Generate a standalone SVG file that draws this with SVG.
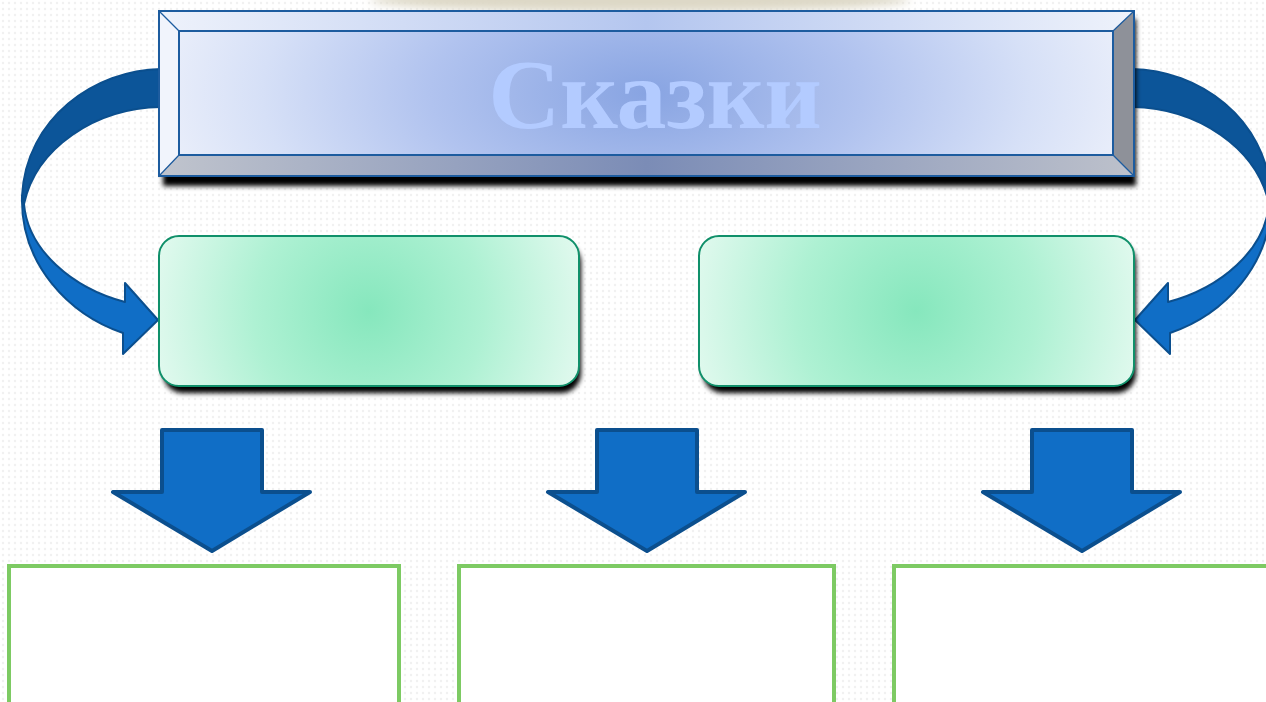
<svg xmlns="http://www.w3.org/2000/svg" width="1266" height="702" viewBox="0 0 1266 702">
<defs>
<pattern id="bgp" width="6" height="6" patternUnits="userSpaceOnUse">
<rect width="6" height="6" fill="#ffffff"/>
<circle cx="3" cy="3" r="1.2" fill="#f1f1f1"/>
</pattern>
<filter id="blur3" x="-10%" y="-20%" width="120%" height="160%"><feGaussianBlur stdDeviation="2.5"/></filter>
<filter id="blur6" x="-20%" y="-200%" width="140%" height="500%"><feGaussianBlur stdDeviation="5"/></filter>
<radialGradient id="face" gradientUnits="userSpaceOnUse" cx="646" cy="93" r="480" gradientTransform="translate(646,93) scale(1,0.5) translate(-646,-93)">
<stop offset="0" stop-color="#88a4e2"/>
<stop offset="0.45" stop-color="#b1c3ef"/>
<stop offset="0.8" stop-color="#d6e0f7"/>
<stop offset="1" stop-color="#e8edfa"/>
</radialGradient>
<linearGradient id="topbev" x1="0" y1="0" x2="1" y2="0">
<stop offset="0" stop-color="#eef2fb"/>
<stop offset="0.5" stop-color="#b4c6ef"/>
<stop offset="1" stop-color="#eef2fb"/>
</linearGradient>
<linearGradient id="botbev" x1="0" y1="0" x2="1" y2="0">
<stop offset="0" stop-color="#c0c4cd"/>
<stop offset="0.5" stop-color="#7b8cb6"/>
<stop offset="1" stop-color="#bdc1cb"/>
</linearGradient>
<radialGradient id="greenL" gradientUnits="userSpaceOnUse" cx="369" cy="311" r="230">
<stop offset="0" stop-color="#86e7bd"/>
<stop offset="0.5" stop-color="#aef1d3"/>
<stop offset="1" stop-color="#e6faf1"/>
</radialGradient>
<radialGradient id="greenR" gradientUnits="userSpaceOnUse" cx="916" cy="311" r="240">
<stop offset="0" stop-color="#86e7bd"/>
<stop offset="0.5" stop-color="#aef1d3"/>
<stop offset="1" stop-color="#e6faf1"/>
</radialGradient>
<style>
.bev{stroke:#1d5c9f;stroke-width:2;stroke-linejoin:miter}
.diag{stroke:#1d5c9f;stroke-width:1.2}
.gbox{stroke:#10906a;stroke-width:2}
.shadow{fill:#000}
.down{fill:#106ec6;stroke:#0b4f8e;stroke-width:4;stroke-linejoin:round}
.cdark{fill:#0c5599;stroke:#0b4f8e;stroke-width:2;stroke-linejoin:round}
.clight{fill:#106ec6;stroke:#0b4f8e;stroke-width:2;stroke-linejoin:round}
.wbox{fill:#ffffff;stroke:#7dca63;stroke-width:4}
.title{font-family:"Liberation Serif","DejaVu Serif",serif;font-weight:bold;font-size:100px;fill:#b3cbff}
</style>
</defs>
<rect width="1266" height="702" fill="url(#bgp)"/>
<ellipse cx="640" cy="0" rx="270" ry="12" fill="#ddd8c6" filter="url(#blur6)"/>

<g id="connectors">
<g id="curve-left">
<path class="cdark" d="M161,69 C95,70 26,118 22,196 L24,204 C36,148 95,108 161,107 Z"/>
<path class="clight" d="M22,196 C20,265 70,315 123,333 L123,354 L158,320 L125,283 L125,302 C72,288 28,250 24,204 Z"/>
</g>
<g id="curve-right" transform="translate(1293,0) scale(-1,1)">
<path class="cdark" d="M161,69 C95,70 26,118 22,196 L24,204 C36,148 95,108 161,107 Z"/>
<path class="clight" d="M22,196 C20,265 70,315 123,333 L123,354 L158,320 L125,283 L125,302 C72,288 28,250 24,204 Z"/>
</g>
<polygon id="down-1" class="down" points="162,430 262,430 262,492 310,492 212,551 113,492 162,492"/>
<polygon id="down-2" class="down" points="597,430 697,430 697,492 745,492 647,551 548,492 597,492"/>
<polygon id="down-3" class="down" points="1032,430 1132,430 1132,492 1180,492 1082,551 983,492 1032,492"/>
</g>

<g id="title-box">
<rect class="shadow" x="163" y="19" width="973" height="167" filter="url(#blur3)"/>
<polygon points="159,11 1134,11 1113,31 179,31" fill="url(#topbev)"/>
<polygon points="159,11 179,31 179,155 159,176" fill="#f1f4fc"/>
<polygon points="159,176 179,155 1113,155 1134,176" fill="url(#botbev)"/>
<polygon points="1134,11 1113,31 1113,155 1134,176" fill="#8e9199"/>
<rect x="179" y="31" width="934" height="124" fill="url(#face)" class="bev"/>
<line class="diag" x1="159" y1="11" x2="179" y2="31"/>
<line class="diag" x1="1134" y1="11" x2="1113" y2="31"/>
<line class="diag" x1="159" y1="176" x2="179" y2="155"/>
<line class="diag" x1="1134" y1="176" x2="1113" y2="155"/>
<rect x="159" y="11" width="975" height="165" fill="none" class="bev"/>
<text class="title" x="655" y="128" text-anchor="middle">Сказки</text>
</g>

<g id="box-left">
<rect class="shadow" x="163" y="243" width="418" height="150" rx="20" filter="url(#blur3)"/>
<rect class="gbox" fill="url(#greenL)" x="159" y="236" width="420" height="150" rx="20"/>
</g>
<g id="box-right">
<rect class="shadow" x="703" y="243" width="433" height="150" rx="20" filter="url(#blur3)"/>
<rect class="gbox" fill="url(#greenR)" x="699" y="236" width="435" height="150" rx="20"/>
</g>

<g id="leaf-1"><rect class="wbox" x="9" y="566" width="390" height="140"/></g>
<g id="leaf-2"><rect class="wbox" x="459" y="566" width="375" height="140"/></g>
<g id="leaf-3"><rect class="wbox" x="894" y="566" width="390" height="140"/></g>
</svg>
